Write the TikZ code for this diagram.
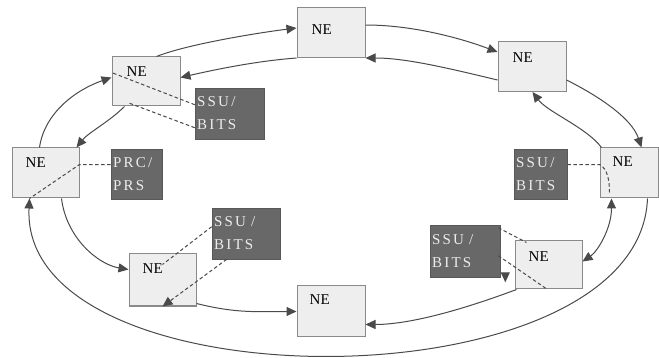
\documentclass[tikz,border=0pt]{standalone}
\usepackage{fontspec}
\setmainfont{Liberation Serif}
\newfontfamily\spaced[LetterSpace=15]{Liberation Serif}
\usetikzlibrary{arrows.meta,calc}
\definecolor{nefill}{HTML}{EEEEEE}
\definecolor{nedraw}{HTML}{8A8A8A}
\definecolor{sbfill}{HTML}{686868}
\definecolor{sbtext}{HTML}{EDEDED}
\definecolor{ringcol}{HTML}{4A4A4A}
\begin{document}
\begin{tikzpicture}[x=1pt,y=-1pt,
 nebox/.style={draw=nedraw,fill=nefill,line width=1pt,minimum width=68pt,minimum height=50pt,inner sep=0pt},
 sbox/.style={fill=sbfill,draw=sbfill!85!black,line width=0.6pt,inner xsep=2pt,inner ysep=0pt,align=left,text=sbtext,font=\spaced\fontsize{15}{23}\selectfont},
 netext/.style={anchor=base west,inner sep=0pt,font=\fontsize{15}{18}\selectfont,text=black},
 ringline/.style={draw=ringcol,line width=1pt,-{Triangle[length=10pt,width=9pt]}},
 dline/.style={draw=ringcol,line width=1pt,dash pattern=on 3.5pt off 2.5pt},
 arrtip/.style={-{Triangle[length=10pt,width=9pt]}}
]
\fill[white] (0,0) rectangle (659,358);
\useasboundingbox (0,0) rectangle (659,358);

% NE boxes
\node[nebox] (ne1) at (331,32.5) {};
\node[nebox] (ne2) at (532,66.5) {};
\node[nebox,minimum width=58pt] (ne3) at (629,173) {};
\node[nebox,minimum width=67pt,minimum height=48pt] (ne4) at (548.5,265) {};
\node[nebox] (ne5) at (331,311) {};
\node[nebox,minimum width=67pt,minimum height=52pt] (ne6) at (162.5,280) {};
\node[nebox,minimum width=67pt] (ne7) at (45.5,173) {};
\node[nebox,minimum height=49pt] (ne8) at (146,81.5) {};

\node[netext] (t1) at ($(ne1.north west)+(15,28)$) {NE};
\node[netext] (t2) at ($(ne2.north west)+(15,22)$) {NE};
\node[netext] (t3) at ($(ne3.north west)+(13,19)$) {NE};
\node[netext] (t4) at ($(ne4.north west)+(14,21)$) {NE};
\node[netext] (t5) at ($(ne5.north west)+(13,19)$) {NE};
\node[netext] (t6) at ($(ne6.north west)+(14,20)$) {NE};
\node[netext] (t7) at ($(ne7.north west)+(14,20)$) {NE};
\node[netext] (t8) at ($(ne8.north west)+(15,20)$) {NE};

% clock boxes
\node[sbox,text width=65pt,minimum height=51pt] (sb1) at (229.5,113.5) {SSU/\\BITS};
\node[sbox,text width=47pt,minimum height=50pt] (sb2) at (136.5,174) {PRC/\\PRS};
\node[sbox,text width=64pt,minimum height=51pt] (sb3) at (246,233.5) {SSU /\\BITS};
\node[sbox,text width=66pt,minimum height=52pt] (sb4) at (465,251) {SSU /\\BITS};
\node[sbox,text width=49pt,minimum height=50pt] (sb5) at (540.5,174) {SSU/\\BITS};

% outer ring
\draw[ringline] ($(ne8.north west)+(45,0)$) .. controls +(30,-12) and +(-40,5) .. ($(ne1.north west)+(0,21)$);
\draw[ringline] ($(ne1.north east)+(0,18)$) .. controls +(45,0) and +(-40,-15) .. ($(ne2.north west)+(0,11)$);
\draw[ringline] ($(ne2.north east)+(0,39)$) .. controls +(30,15) and +(-10,-30) .. ($(ne3.north west)+(42,0)$);
\draw[ringline] ($(ne3.south west)+(48,0)$) .. controls +(-8,209) and +(-10,209) .. ($(ne7.south west)+(18,0)$);
\draw[ringline] ($(ne7.north west)+(28,0)$) .. controls +(5,-35) and +(-35,12) .. ($(ne8.north west)+(0,21)$);

% inner ring
\draw[ringline] ($(ne3.north west)+(2,0)$) .. controls +(-15,-20) and +(15,20) .. ($(ne2.south west)+(35,0)$);
\draw[ringline] ($(ne2.north west)+(0,39)$) .. controls +(-50,-12) and +(40,0) .. (ne1.south east);
\draw[ringline] (ne1.south west) .. controls +(-40,3) and +(35,-8) .. ($(ne8.north east)+(0,21)$);
\draw[ringline] ($(ne8.south west)+(13,0)$) .. controls +(-15,15) and +(12,-15) .. ($(ne7.north east)+(-3,0)$);
\draw[ringline] ($(ne7.south west)+(50,0)$) .. controls +(5,40) and +(-30,-5) .. ($(ne6.north west)+(0,16)$);
\draw[ringline] ($(ne6.south east)+(0,-3)$) .. controls +(40,10) and +(-40,0) .. ($(ne5.north west)+(0,26)$);
\draw[ringline] ($(ne4.south west)+(2,0)$) .. controls +(-40,15) and +(50,0) .. ($(ne5.north east)+(0,39)$);
\draw[ringline,{Triangle[length=10pt,width=9pt]}-{Triangle[length=10pt,width=9pt]}] ($(ne4.north east)+(0,21)$) .. controls +(15,-10) and +(0,30) .. ($(ne3.south west)+(12,0)$);

% dashed timing links
\draw[dline] ($(sb1.north west)+(0,17)$) -- ($(ne8.north west)+(0,16)$);
\draw[dline] ($(sb1.north west)+(0,40)$) -- ($(ne8.south west)+(16,-4)$);
\draw[dline] ($(sb2.north west)+(0,16)$) -- ($(ne7.north east)+(0,17)$) -- ($(ne7.south west)+(18,0)$);
\draw[dline] ($(sb3.north west)+(0,19)$) -- ($(ne6.north west)+(34,11)$);
\draw[dline,arrtip] ($(sb3.south west)+(15,0)$) -- ($(ne6.south west)+(34,0)$);
\draw[dline] ($(sb4.north east)+(-2,3)$) -- ($(ne4.north west)+(12,2)$);
\draw[dline] ($(sb4.north east)+(-2,31)$) -- ($(ne4.south west)+(33,0)$);
\draw[dline,arrtip] ($(sb4.south east)+(5,-4)$) -- ($(sb4.south east)+(5,5)$);
\draw[dline] ($(sb5.north east)+(0,16)$) -- ($(ne3.north west)+(0,17)$) .. controls +(8,4) and +(0,-12) .. ($(ne3.south west)+(10,-6)$);
\end{tikzpicture}
\end{document}
